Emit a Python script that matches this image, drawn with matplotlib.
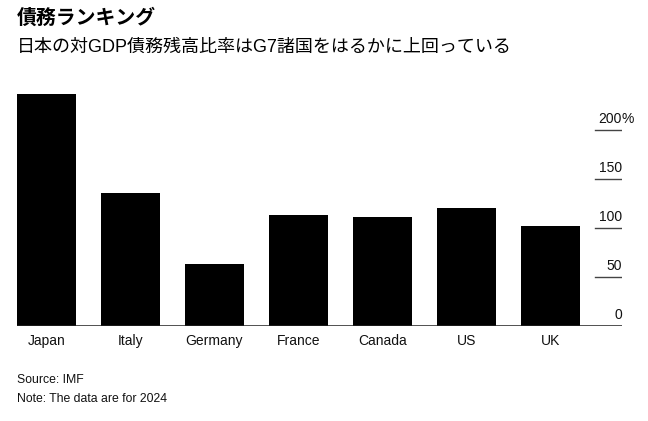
import matplotlib
matplotlib.use("Agg")
import matplotlib.pyplot as plt
import matplotlib.transforms as mtransforms

plt.rcParams['font.family'] = ['Liberation Sans', 'Noto Sans CJK JP']

# IMF general government gross debt, % of GDP (2024)
countries = ["Japan", "Italy", "Germany", "France", "Canada", "US", "UK"]
debt_pct = [236.7, 135.3, 62.9, 113.1, 110.8, 120.8, 101.8]
y_ticks = [0, 50, 100, 150, 200]

title = "債務ランキング"
subtitle = "日本の対GDP債務残高比率はG7諸国をはるかに上回っている"
source = "Source: IMF"
note = "Note: The data are for 2024"

W, H = 648, 421
fig = plt.figure(figsize=(W / 100, H / 100), dpi=100)
ax = fig.add_axes([17 / W, (H - 326) / H, 605 / W, 240 / H])

ax.bar(range(len(countries)), debt_pct, width=0.7, color="black", zorder=2)
ax.set_xlim(-0.35, 6.85)
ax.set_ylim(0, 245)

for s in ax.spines.values():
    s.set_visible(False)
ax.axhline(0, color="#222222", linewidth=1.1, zorder=3)

ax.set_yticks([])
ax.set_xticks(range(len(countries)))
ax.set_xticklabels(countries, fontsize=10, color="#111111")
ax.tick_params(axis="x", length=0, pad=6)

# right-side value guides
lab_tr = mtransforms.offset_copy(
    mtransforms.blended_transform_factory(ax.transAxes, ax.transData),
    fig=fig, x=0, y=7, units="dots")
for v in y_ticks:
    if v > 0:
        ax.axhline(v, xmin=0.955, xmax=1.0, color="#444444", linewidth=1.0)
    ax.text(1.0, v, str(v), transform=lab_tr, ha="right", va="baseline",
            fontsize=10, color="#111111")
    if v == y_ticks[-1]:
        ax.text(1.0, v, "%", transform=lab_tr, ha="left", va="baseline",
                fontsize=10, color="#111111")

fig.text(17 / W, 1 - 18 / H, title, fontsize=14.3, fontweight="bold",
         ha="left", va="center", color="black")
fig.text(17 / W, 1 - 47 / H, subtitle, fontsize=13, ha="left", va="center",
         color="black")
fig.text(17 / W, 1 - 380 / H, source, fontsize=8.8, ha="left", va="center",
         color="#111111")
fig.text(17 / W, 1 - 399 / H, note, fontsize=8.8, ha="left", va="center",
         color="#111111")

fig.savefig("out.png", dpi=100)
